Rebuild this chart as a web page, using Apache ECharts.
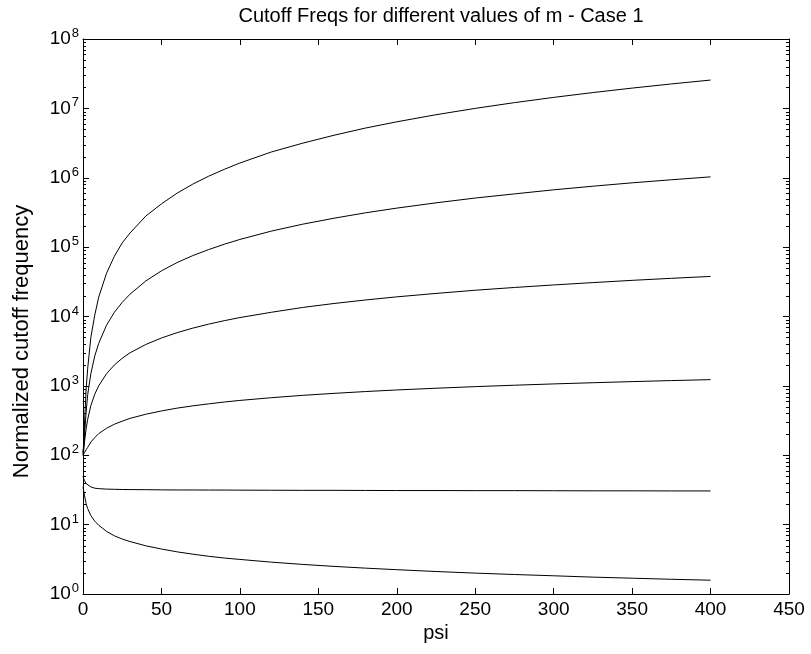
<!DOCTYPE html>
<html>
<head>
<meta charset="utf-8">
<script src="https://cdn.jsdelivr.net/npm/echarts@6/dist/echarts.min.js"></script>
<style>
  html, body { margin: 0; padding: 0; background: #fff; }
  #chart { width: 811px; height: 654px; }
</style>
</head>
<body>
<div id="chart"></div>
<script>
// psi sample points shared by all curves
const psi = [0, 0.5, 1, 2, 3, 5, 7.5, 10, 15, 20, 25, 30, 40, 50, 60, 70, 80, 90, 100,
  120, 140, 160, 180, 200, 225, 250, 275, 300, 325, 350, 375, 400];

// normalized cutoff frequency, one array per value of m
const cutoffM4 = [110, 150, 300, 900, 1800, 5000, 10500, 19000, 42000, 74000, 115000, 160000,
  280000, 420000, 600000, 810000, 1050000, 1320000, 1630000, 2350000, 3150000, 4100000,
  5200000, 6400000, 8100000, 10000000, 12100000, 14400000, 16900000, 19600000, 22500000, 25600000];
const cutoffM3 = [105, 140, 200, 420, 750, 1500, 2700, 4100, 7500, 11500, 16000, 21000,
  32500, 45500, 60000, 75500, 92000, 110000, 129000, 170000, 214000, 261000, 312000, 365000,
  435000, 510000, 585000, 670000, 755000, 845000, 935000, 1030000];
const cutoffM2 = [100, 120, 160, 240, 330, 520, 760, 1000, 1500, 2000, 2500, 3000,
  3950, 4900, 5850, 6800, 7750, 8700, 9650, 11500, 13500, 15400, 17300, 19200,
  21500, 23900, 26200, 28500, 30800, 33200, 35500, 37800];
const cutoffM1 = [100, 105, 110, 120, 130, 155, 180, 205, 245, 280, 310, 340,
  390, 435, 478, 515, 550, 585, 617, 675, 730, 780, 828, 873,
  925, 975, 1022, 1067, 1110, 1152, 1192, 1230];
const cutoffM0 = [50, 46, 43, 39, 37, 35, 33.5, 33, 32.5, 32.3, 32.1, 32,
  31.9, 31.7, 31.6, 31.6, 31.5, 31.5, 31.4, 31.3, 31.2, 31.2, 31.1, 31,
  31, 30.9, 30.9, 30.8, 30.7, 30.7, 30.6, 30.6];
const cutoffMn1 = [35, 30, 26, 20, 17, 13.5, 11.2, 9.8, 8.0, 6.9, 6.2, 5.7,
  4.95, 4.45, 4.05, 3.75, 3.5, 3.3, 3.15, 2.88, 2.67, 2.5, 2.36, 2.24,
  2.11, 2.0, 1.91, 1.83, 1.75, 1.69, 1.63, 1.58];

const curves = [cutoffM4, cutoffM3, cutoffM2, cutoffM1, cutoffM0, cutoffMn1];

// x axis ticks and log decades of the y axis
const xTicks = [0, 50, 100, 150, 200, 250, 300, 350, 400, 450];
const yDecadeMin = 0, yDecadeMax = 8;

const FONT = 'Liberation Sans, Arial, Helvetica, sans-serif';

// minor log ticks (2..9 within each decade)
const minorVals = [];
for (let k = yDecadeMin; k < yDecadeMax; k++) {
  for (let d = 2; d <= 9; d++) minorVals.push(d * Math.pow(10, k));
}

const chart = echarts.init(document.getElementById('chart'), null, { renderer: 'canvas' });

const lineSeries = curves.map(arr => ({
  type: 'line',
  data: psi.map((p, i) => [p, arr[i]]),
  showSymbol: false,
  symbol: 'none',
  lineStyle: { color: '#000', width: 1 },
  silent: true,
  animation: false
}));

const minorTickSeries = {
  type: 'custom',
  xAxisIndex: 0,
  yAxisIndex: 0,
  silent: true,
  clip: false,
  animation: false,
  data: minorVals.map(v => [xTicks[0], v]),
  renderItem: function (params, api) {
    const v = api.value(1);
    const l = api.coord([xTicks[0], v]);
    const r = api.coord([xTicks[xTicks.length - 1], v]);
    const st = { stroke: '#000', lineWidth: 1 };
    return {
      type: 'group',
      children: [
        { type: 'line', shape: { x1: l[0], y1: Math.round(l[1]) + 0.5, x2: l[0] + 3, y2: Math.round(l[1]) + 0.5 }, style: st },
        { type: 'line', shape: { x1: r[0] - 3, y1: Math.round(r[1]) + 0.5, x2: r[0], y2: Math.round(r[1]) + 0.5 }, style: st }
      ]
    };
  }
};

const axisLineStyle = { color: '#000', width: 1 };

function yLabel(v) {
  return '{b|10}{s|' + Math.round(Math.log10(v)) + '}';
}

chart.setOption({
  animation: false,
  backgroundColor: '#fff',
  title: {
    text: 'Cutoff Freqs for different values of m - Case 1',
    left: 436,
    top: 1,
    textAlign: 'center',
    textStyle: { fontFamily: FONT, fontSize: 20, fontWeight: 'normal', color: '#000' }
  },
  grid: { left: 83, right: 22, top: 39, bottom: 60, containLabel: false, outerBoundsMode: 'none' },
  xAxis: [
    {
      type: 'value', position: 'bottom', min: xTicks[0], max: xTicks[xTicks.length - 1], interval: 50,
      name: 'psi', nameLocation: 'middle', nameGap: 29,
      nameTextStyle: { fontFamily: FONT, fontSize: 20, color: '#000' },
      axisLine: { show: true, onZero: false, lineStyle: axisLineStyle },
      axisTick: { show: true, inside: true, length: 6, lineStyle: axisLineStyle },
      axisLabel: { show: true, margin: 6, color: '#000', fontFamily: FONT, fontSize: 19 },
      splitLine: { show: false }
    },
    {
      type: 'value', position: 'top', min: xTicks[0], max: xTicks[xTicks.length - 1], interval: 50,
      axisLine: { show: true, onZero: false, lineStyle: axisLineStyle },
      axisTick: { show: true, inside: true, length: 6, lineStyle: axisLineStyle },
      axisLabel: { show: false },
      splitLine: { show: false }
    }
  ],
  yAxis: [
    {
      type: 'log', logBase: 10, position: 'left',
      min: Math.pow(10, yDecadeMin), max: Math.pow(10, yDecadeMax), splitNumber: 8,
      name: 'Normalized cutoff frequency', nameLocation: 'middle', nameGap: 50,
      nameTextStyle: { fontFamily: FONT, fontSize: 22, color: '#000', padding: [0, 50, 0, 0] },
      axisLine: { show: true, onZero: false, lineStyle: axisLineStyle },
      axisTick: { show: true, inside: true, length: 6, lineStyle: axisLineStyle },
      axisLabel: {
        show: true, margin: 4, formatter: yLabel,
        rich: {
          b: { fontFamily: FONT, fontSize: 19, color: '#000', lineHeight: 24 },
          s: { fontFamily: FONT, fontSize: 13, color: '#000', verticalAlign: 'top', lineHeight: 24, padding: [0, 0, 14, 1] }
        }
      },
      splitLine: { show: false },
      minorTick: { show: false }
    },
    {
      type: 'log', logBase: 10, position: 'right',
      min: Math.pow(10, yDecadeMin), max: Math.pow(10, yDecadeMax), splitNumber: 8,
      axisLine: { show: true, onZero: false, lineStyle: axisLineStyle },
      axisTick: { show: true, inside: true, length: 6, lineStyle: axisLineStyle },
      axisLabel: { show: false },
      splitLine: { show: false }
    }
  ],
  series: lineSeries.concat([minorTickSeries])
});
</script>
</body>
</html>
